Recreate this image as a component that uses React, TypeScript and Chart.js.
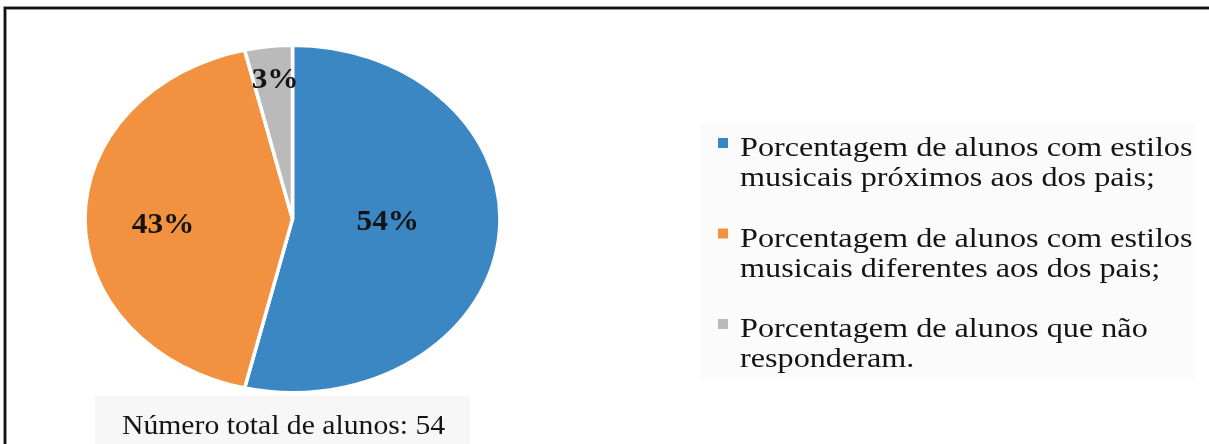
import React, { useEffect, useRef } from "react";
import { Chart, registerables } from "chart.js";

Chart.register(...registerables);

// ---- data ----
const categories: string[][] = [
  ["Porcentagem de alunos com estilos", "musicais próximos aos dos pais;"],
  ["Porcentagem de alunos com estilos", "musicais diferentes aos dos pais;"],
  ["Porcentagem de alunos que não", "responderam."],
];
const studentCounts = [29, 23, 2];
const percentLabels = ["54%", "43%", "3%"];
const totalLabel = "Número total de alunos: 54";

// ---- style ----
const sliceColors = ["#3b87c4", "#f2913f", "#bababa"];
const labelRadiusFraction = [0.46, 0.625, 0.8];
const labelAngleFraction = [0.478, 0.476, 0.55];
const STRETCH_X = 1.196;
const SERIF = '"Liberation Serif", "Times New Roman", serif';
const TEXT_COLOR = "#141414";

function drawStretchedText(
  ctx: CanvasRenderingContext2D,
  text: string,
  x: number,
  y: number,
  font: string,
  scaleX: number,
  align: CanvasTextAlign,
  baseline: CanvasTextBaseline = "alphabetic"
) {
  ctx.save();
  ctx.translate(x, y);
  ctx.scale(scaleX, 1);
  ctx.font = font;
  ctx.textAlign = align;
  ctx.textBaseline = baseline;
  ctx.fillStyle = TEXT_COLOR;
  ctx.fillText(text, 0, 0);
  ctx.restore();
}

const ellipsePlugin = {
  id: "ellipse",
  beforeDatasetsDraw(chart: any) {
    const arc = chart.getDatasetMeta(0).data[0];
    const ctx = chart.ctx;
    ctx.save();
    ctx.translate(arc.x, 0);
    ctx.scale(STRETCH_X, 1);
    ctx.translate(-arc.x, 0);
  },
  afterDatasetsDraw(chart: any) {
    chart.ctx.restore();
  },
};

const decorPlugin = {
  id: "decor",
  beforeDraw(chart: any) {
    const ctx: CanvasRenderingContext2D = chart.ctx;
    const w = chart.width;
    const h = chart.height;
    ctx.save();
    ctx.fillStyle = "#ffffff";
    ctx.fillRect(0, 0, w, h);
    // faint panels behind legend and caption
    ctx.fillStyle = "#fbfbfb";
    ctx.fillRect(700, 122, 495, 258);
    ctx.fillStyle = "#f7f7f7";
    ctx.fillRect(95, 396, 375, h - 396);
    // frame (top + left)
    ctx.fillStyle = "#9a9a9a";
    ctx.fillRect(3, 6, w, 4);
    ctx.fillRect(3, 6, 4, h);
    ctx.fillStyle = "#111111";
    ctx.fillRect(4, 7, w, 2);
    ctx.fillRect(4, 7, 2, h);
    ctx.restore();
  },
  afterDraw(chart: any) {
    const ctx: CanvasRenderingContext2D = chart.ctx;
    const meta = chart.getDatasetMeta(0);
    // percentage labels inside slices
    meta.data.forEach((arc: any, i: number) => {
      const ang = arc.startAngle + (arc.endAngle - arc.startAngle) * labelAngleFraction[i];
      const r = arc.outerRadius * labelRadiusFraction[i];
      const x = arc.x + Math.cos(ang) * r * STRETCH_X;
      const y = arc.y + Math.sin(ang) * r;
      drawStretchedText(ctx, percentLabels[i], x, y, `bold 29px ${SERIF}`, 1.08, "center", "middle");
    });
    // legend
    const colors = chart.data.datasets[0].backgroundColor as string[];
    const legendX = 740;
    const firstBaseline = 156;
    const groupStep = 90.5;
    const lineStep = 30;
    categories.forEach((lines, i) => {
      const base = firstBaseline + i * groupStep;
      ctx.fillStyle = colors[i];
      ctx.fillRect(718, base - 18, 10, 10);
      lines.forEach((line, j) => {
        drawStretchedText(ctx, line, legendX, base + j * lineStep, `28px ${SERIF}`, 1.15, "left");
      });
    });
    // caption
    drawStretchedText(ctx, totalLabel, 122, 434, `28px ${SERIF}`, 1.06, "left");
  },
};

export default function App() {
  const canvasRef = useRef<HTMLCanvasElement | null>(null);

  useEffect(() => {
    document.body.style.margin = "0";
    const canvas = canvasRef.current;
    if (!canvas) return;
    const chart = new Chart(canvas, {
      type: "pie",
      data: {
        labels: categories.map((c) => c.join(" ")),
        datasets: [
          {
            data: studentCounts,
            backgroundColor: sliceColors,
            borderColor: "#ffffff",
            borderWidth: 3,
            clip: false as any,
          },
        ],
      },
      options: {
        responsive: false,
        animation: false,
        layout: { padding: { left: 117.5, right: 741.5, top: 44, bottom: 50 } },
        plugins: {
          legend: { display: false },
          tooltip: { enabled: false },
        },
      },
      plugins: [ellipsePlugin, decorPlugin],
    });
    return () => chart.destroy();
  }, []);

  return (
    <div style={{ width: 1209, height: 444, overflow: "hidden" }}>
      <canvas ref={canvasRef} width={1209} height={444} style={{ display: "block" }} />
    </div>
  );
}
